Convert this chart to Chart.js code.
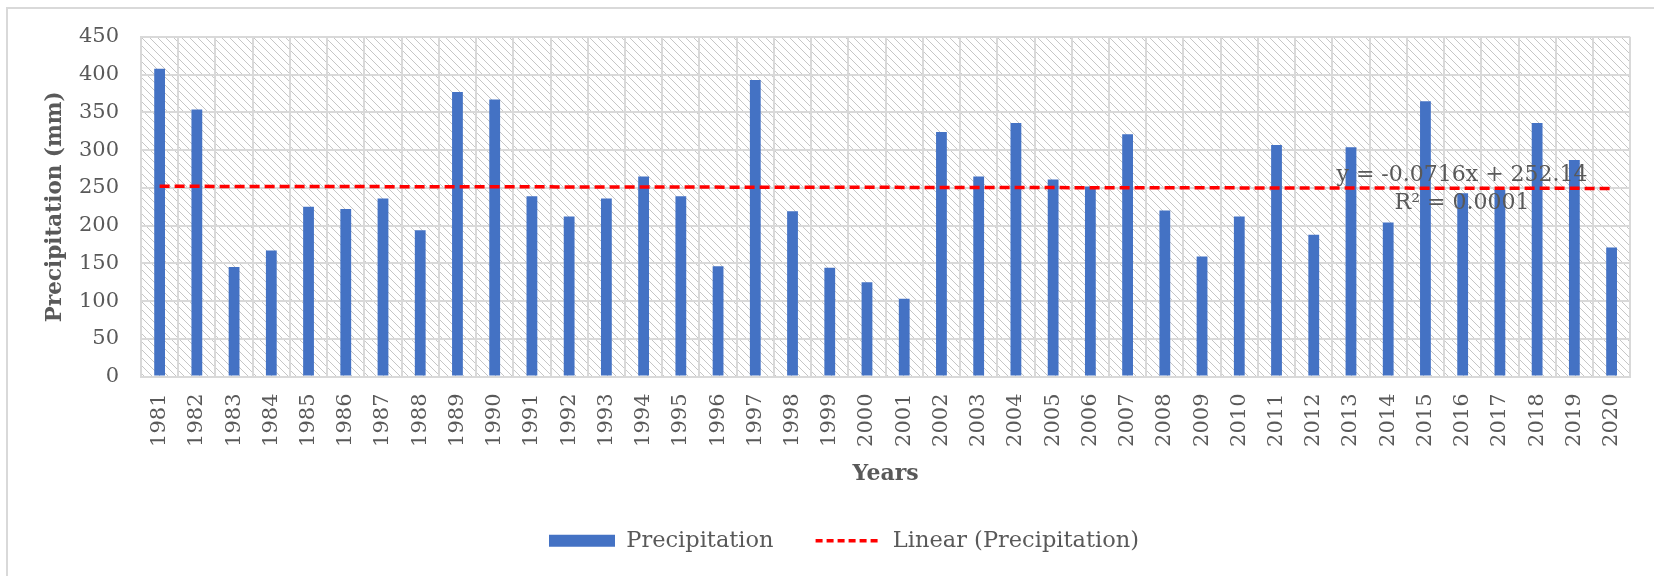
<!DOCTYPE html>
<html>
<head>
  <meta charset="UTF-8">
  <title>Precipitation 1981-2020</title>
  <script src="https://cdn.jsdelivr.net/npm/chart.js"></script>
  <style>
    html, body { margin: 0; padding: 0; background: #fff; }
    #wrap { width: 1654px; height: 576px; position: relative; }
  </style>
</head>
<body>
  <div id="wrap"><canvas id="precipChart"></canvas></div>

  <script>
    // years on the x axis
    const years = ['1981','1982','1983','1984','1985','1986','1987','1988','1989','1990',
                   '1991','1992','1993','1994','1995','1996','1997','1998','1999','2000',
                   '2001','2002','2003','2004','2005','2006','2007','2008','2009','2010',
                   '2011','2012','2013','2014','2015','2016','2017','2018','2019','2020'];

    // annual precipitation (mm)
    const precipitation = [408, 354, 145, 167, 225, 222, 236, 194, 377, 367,
                           239, 212, 236, 265, 239, 146, 393, 219, 144, 125,
                           103, 324, 265, 336, 261, 252, 321, 220, 159, 212,
                           307, 188, 304, 204, 365, 243, 248, 336, 287, 171];

    // linear trend: value at first and last year
    const trendEnds = [252.1, 249.3];
    const trendLabel = ['y = -0.0716x + 252.14', 'R² = 0.0001'];

    const yMax = 450;
    const yStep = 50;

    // trend only has values at the two ends, the line spans the gap
    const trendData = years.map((y, i) => i === 0 ? trendEnds[0] : (i === years.length - 1 ? trendEnds[1] : null));

    const FONT = "'DejaVu Serif', serif";
    const GREY_TEXT = '#595959';
    const GRID = '#d9d9d9';

    // hatched plot background
    function makeHatch() {
      const c = document.createElement('canvas');
      c.width = 8; c.height = 8;
      const g = c.getContext('2d');
      g.strokeStyle = '#c6c6c6';
      g.lineWidth = 1;
      g.beginPath();
      g.moveTo(-1, -1); g.lineTo(9, 9);
      g.moveTo(-1, 7);  g.lineTo(1, 9);
      g.moveTo(7, -1);  g.lineTo(9, 1);
      g.stroke();
      return g.createPattern(c, 'repeat');
    }

    const decorPlugin = {
      id: 'decor',
      afterLayout(chart) {
        // legend sits a little right of the canvas centre in the original
        chart.legend.left += 22;
        chart.legend.right += 22;
      },
      beforeDraw(chart) {
        const { ctx, chartArea } = chart;
        ctx.save();
        // outer frame (cut at right and bottom in the original)
        ctx.strokeStyle = GRID;
        ctx.lineWidth = 2;
        ctx.strokeRect(7, 8, 1700, 700);
        ctx.fillStyle = makeHatch();
        ctx.fillRect(chartArea.left, chartArea.top, chartArea.right - chartArea.left, chartArea.bottom - chartArea.top);
        ctx.restore();
      },
      afterDatasetsDraw(chart) {
        const { ctx } = chart;
        ctx.save();
        ctx.fillStyle = GREY_TEXT;
        ctx.font = "22px " + FONT;
        ctx.textAlign = 'center';
        ctx.textBaseline = 'middle';
        ctx.fillText(trendLabel[0], 1462, 175);
        ctx.fillText(trendLabel[1], 1462, 203);
        ctx.restore();
      }
    };

    const ctx = document.getElementById('precipChart').getContext('2d');
    const precipChart = new Chart(ctx, {
      type: 'bar',
      data: {
        labels: years,
        datasets: [
          {
            type: 'bar',
            label: 'Precipitation',
            data: precipitation,
            backgroundColor: '#4472C4',
            borderWidth: 0,
            barPercentage: 0.29,
            categoryPercentage: 1,
            order: 1
          },
          {
            type: 'line',
            label: 'Linear (Precipitation)',
            data: trendData,
            borderColor: '#FF0000',
            backgroundColor: '#FF0000',
            borderWidth: 3.5,
            borderDash: [10, 5],
            pointRadius: 0,
            spanGaps: true,
            fill: false,
            order: 0
          }
        ]
      },
      options: {
        responsive: true,
        maintainAspectRatio: false,
        animation: false,
        layout: { padding: { left: 7, right: 17, top: 37, bottom: 14 } },
        plugins: {
          tooltip: { enabled: false },
          legend: {
            position: 'bottom',
            labels: {
              font: { family: FONT, size: 22.5 },
              color: GREY_TEXT,
              usePointStyle: true,
              boxWidth: 66,
              boxHeight: 12,
              pointStyleWidth: 66,
              padding: 42,
              sort: (a, b) => a.datasetIndex - b.datasetIndex,
              generateLabels(chart) {
                const items = Chart.defaults.plugins.legend.labels.generateLabels(chart);
                items.forEach(it => {
                  if (it.datasetIndex === 0) {
                    it.pointStyle = 'rect';
                    it.lineWidth = 0;
                  } else {
                    it.pointStyle = 'line';
                    it.lineWidth = 3.5;
                    it.lineDash = [7, 4];
                    it.strokeStyle = '#FF0000';
                  }
                });
                return items;
              }
            }
          }
        },
        scales: {
          x: {
            grid: { color: GRID, lineWidth: 2, drawTicks: false, offset: true },
            border: { color: GRID, width: 2 },
            ticks: {
              color: GREY_TEXT,
              font: { family: FONT, size: 21 },
              minRotation: 90,
              maxRotation: 90,
              autoSkip: false,
              padding: 17
            },
            title: {
              display: true,
              text: 'Years',
              color: GREY_TEXT,
              font: { family: FONT, size: 22, weight: 'bold' },
              padding: { top: 0, bottom: 0 }
            },
            afterFit(scale) { scale.height = 111; }
          },
          y: {
            min: 0,
            max: yMax,
            grid: { color: GRID, lineWidth: 2, drawTicks: false },
            border: { color: GRID, width: 2 },
            ticks: {
              stepSize: yStep,
              color: GREY_TEXT,
              font: { family: FONT, size: 21 },
              padding: 22
            },
            title: {
              display: true,
              text: 'Precipitation (mm)',
              color: GREY_TEXT,
              font: { family: FONT, size: 21.5, weight: 'bold' },
              padding: { top: 36, bottom: 0 }
            },
            afterFit(scale) { scale.width = 134; }
          }
        }
      },
      plugins: [decorPlugin]
    });
  </script>
</body>
</html>
